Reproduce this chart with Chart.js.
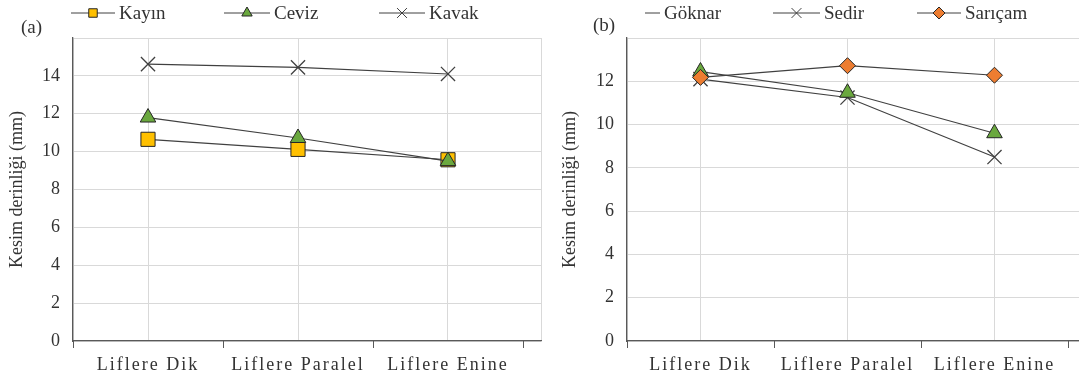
<!DOCTYPE html>
<html>
<head>
<meta charset="utf-8">
<script src="https://cdn.jsdelivr.net/npm/chart.js@4.4.1/dist/chart.umd.min.js"></script>
<style>
  body { margin: 0; background: #fff; }
  #wrap { position: relative; width: 1079px; height: 380px; }
  canvas { position: absolute; top: 0; }
</style>
</head>
<body>
<div id="wrap">
  <canvas id="chartA" width="545" height="380" style="left:0"></canvas>
  <canvas id="chartB" width="539" height="380" style="left:540px"></canvas>
</div>
<script>
// data
const categories = ['Liflere Dik', 'Liflere Paralel', 'Liflere Enine'];
const kayin = [10.65, 10.12, 9.57];
const ceviz = [11.8, 10.72, 9.5];
const kavak = [14.62, 14.45, 14.1];
const goknar = [12.45, 11.47, 9.6];
const sedir = [12.1, 11.25, 8.5];
const saricam = [12.18, 12.72, 12.28];
const yMaxA = 16;
const yMaxB = 14;
const yStep = 2;

const FONT = "'Liberation Serif', 'DejaVu Serif', serif";
const TEXT = '#333333';
const LINE = '#404040';
const GRID = '#d9d9d9';
const AXIS = '#595959';

function toPoints(values) {
  return values.map((v, i) => ({ x: i, y: v }));
}

// legend with a line through the marker, panel label, and category tick marks
const extras = {
  id: 'extras',
  afterDraw(chart, args, opts) {
    const ctx = chart.ctx;
    ctx.save();
    ctx.font = '19px ' + FONT;
    ctx.textBaseline = 'middle';
    chart.data.datasets.forEach((ds, i) => {
      const it = opts.items[i];
      const y = opts.legendY;
      ctx.strokeStyle = LINE;
      ctx.lineWidth = 1;
      ctx.beginPath();
      ctx.moveTo(it.x, y);
      ctx.lineTo(it.x + it.w, y);
      ctx.stroke();
      if (it.r) {
        ctx.fillStyle = ds.pointBackgroundColor;
        ctx.strokeStyle = ds.pointBorderColor;
        ctx.lineWidth = 1;
        Chart.helpers.drawPoint(ctx, { pointStyle: ds.pointStyle, radius: it.r, rotation: 0, borderWidth: 1 }, it.x + it.w / 2, y);
      }
      ctx.fillStyle = TEXT;
      ctx.textAlign = 'left';
      ctx.fillText(ds.label, it.x + it.w + 4, y + 1);
    });
    // panel label
    ctx.fillText(opts.panel, opts.panelX, opts.panelY);
    // tick marks between categories
    const xs = chart.scales.x;
    ctx.strokeStyle = AXIS;
    ctx.lineWidth = 1;
    for (let i = 0; i <= categories.length; i++) {
      const px = Math.round(xs.getPixelForValue(i - 0.5)) + 0.5;
      if (px > chart.chartArea.right + 1) continue;
      ctx.beginPath();
      ctx.moveTo(px, xs.top);
      ctx.lineTo(px, xs.top + 7);
      ctx.stroke();
    }
    ctx.restore();
  }
};

// letter spaced category labels
const spacedTicks = {
  id: 'spacedTicks',
  beforeDraw(chart) {
    const sc = chart.scales.x;
    if (sc._spaced) return;
    const orig = sc.drawLabels;
    sc.drawLabels = function (area) {
      this.ctx.save();
      this.ctx.letterSpacing = '2px';
      orig.call(this, area);
      this.ctx.restore();
    };
    sc._spaced = true;
  }
};

function makeChart(id, datasets, cfg) {
  return new Chart(document.getElementById(id), {
    type: 'line',
    data: { datasets: datasets },
    options: {
      responsive: false,
      animation: false,
      events: [],
      layout: {
        autoPadding: false,
        padding: { top: 38, right: cfg.padRight, left: 0, bottom: 0 }
      },
      plugins: {
        legend: { display: false },
        tooltip: { enabled: false },
        extras: cfg.extras
      },
      scales: {
        x: {
          type: 'linear',
          min: -0.5,
          max: cfg.xMax,
          afterBuildTicks: s => {
            s.ticks = [-0.5, 0, 1, 2, cfg.xMax].map(v => ({ value: v }));
          },
          afterFit: s => {
            s.height = 39;
            s.paddingLeft = 0;
            s.paddingRight = 0;
          },
          grid: { color: GRID, drawTicks: false },
          border: { color: AXIS, width: 1.3 },
          ticks: {
            autoSkip: false,
            maxRotation: 0,
            padding: 13,
            color: TEXT,
            font: { family: FONT, size: 18 },
            callback: v => (Number.isInteger(v) ? categories[v] : '')
          }
        },
        y: {
          min: 0,
          max: cfg.yMax,
          afterFit: s => { s.width = cfg.yWidth; },
          grid: { color: GRID, drawTicks: false },
          border: { color: AXIS, width: 1.3 },
          ticks: {
            stepSize: yStep,
            padding: 13,
            color: TEXT,
            font: { family: FONT, size: 18 },
            callback: v => (v === cfg.yMax ? '' : v)
          },
          title: {
            display: true,
            text: 'Kesim derinliği (mm)',
            color: TEXT,
            font: { family: FONT, size: 18 },
            padding: { top: cfg.titlePad, bottom: 0 }
          }
        }
      }
    },
    plugins: [extras, spacedTicks]
  });
}

function series(label, values, style, fill, radius, order) {
  return {
    label: label,
    data: toPoints(values),
    borderColor: LINE,
    borderWidth: 1.2,
    tension: 0,
    pointStyle: style,
    pointRadius: radius,
    pointBackgroundColor: fill,
    pointBorderColor: style === 'crossRot' ? LINE : '#262626',
    pointBorderWidth: style === 'crossRot' ? 1.3 : 1,
    order: order
  };
}

// (a)
makeChart('chartA', [
  series('Kayın', kayin, 'rect', '#FFC000', 10, 1),
  series('Ceviz', ceviz, 'triangle', '#6AA83E', 9, 0),
  series('Kavak', kavak, 'crossRot', LINE, 10, 1)
], {
  xMax: 2.62, yMax: yMaxA, yWidth: 73, titlePad: 6, padRight: 4,
  extras: {
    legendY: 13, panel: '(a)', panelX: 21, panelY: 28,
    items: [{ x: 71, w: 44, r: 6 }, { x: 224, w: 46, r: 6 }, { x: 379, w: 46, r: 7 }]
  }
});

// (b)
makeChart('chartB', [
  series('Göknar', goknar, 'triangle', '#6AA83E', 9, 1),
  series('Sedir', sedir, 'crossRot', LINE, 10, 1),
  series('Sarıçam', saricam, 'rectRot', '#ED7D31', 8, 0)
], {
  xMax: 2.575, yMax: yMaxB, yWidth: 87, titlePad: 19, padRight: 0,
  extras: {
    legendY: 13, panel: '(b)', panelX: 53, panelY: 26,
    items: [{ x: 105, w: 15, r: 0 }, { x: 233, w: 47, r: 7 }, { x: 377, w: 44, r: 6 }]
  }
});
</script>
</body>
</html>
